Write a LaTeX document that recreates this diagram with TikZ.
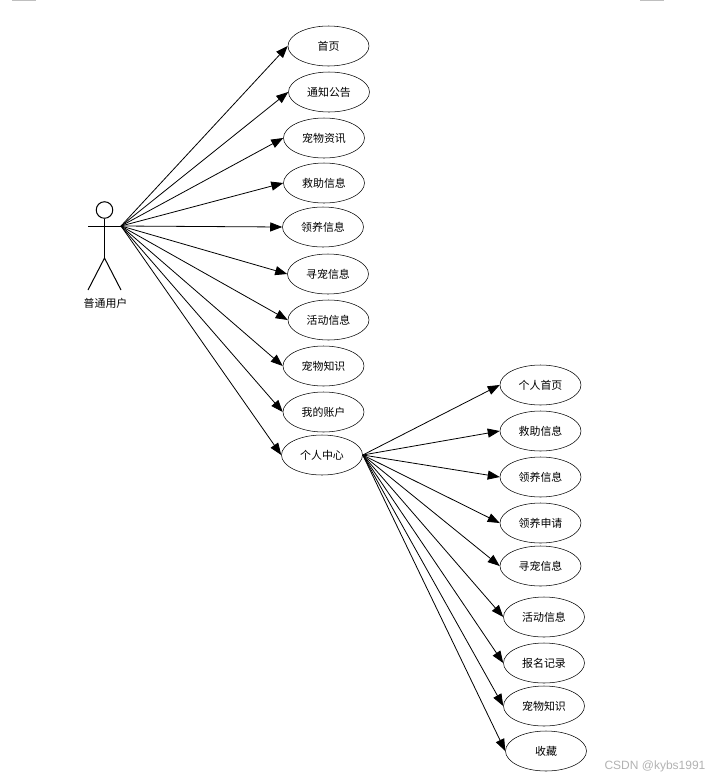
\documentclass[tikz,border=0pt]{standalone}
\usepackage{fontspec}
\setmainfont{Noto Sans CJK SC}
\newfontfamily\markfont{Liberation Sans}
\usetikzlibrary{shapes.geometric, arrows.meta}

\begin{document}
\begin{tikzpicture}[x=0.75pt, y=-0.75pt,
            usecase/.style={draw, ellipse, inner sep=0pt, minimum width=60.75pt, minimum height=30pt, text centered, font=\fontsize{8.2}{10}\selectfont},
            actorlabel/.style={font=\fontsize{8.2}{10}\selectfont},
            limb/.style={line width=0.75pt},
            arrow/.style={line width=0.6pt, -{Triangle[length=9pt, width=6.8pt]}},
            topbar/.style={draw=none, fill=black!25},
            wmark/.style={text=black!30, font=\markfont\fontsize{9}{10}\selectfont}]
            \useasboundingbox (0,0) rectangle (721,779);

            % Nodes
            \node (home) [usecase] at (328.5,46) {首页};
            \node (notice) [usecase] at (329,92) {通知公告};
            \node (news) [usecase] at (324,138) {宠物资讯};
            \node (rescue) [usecase] at (324,183) {救助信息};
            \node (adopt) [usecase] at (323,227) {领养信息};
            \node (search) [usecase] at (328,274) {寻宠信息};
            \node (event) [usecase] at (328.5,320) {活动信息};
            \node (know) [usecase] at (323.5,366) {宠物知识};
            \node (account) [usecase] at (323.5,412) {我的账户};
            \node (center) [usecase] at (322,455) {个人中心};

            \node (uhome) [usecase] at (540.5,385) {个人首页};
            \node (urescue) [usecase] at (540.5,431) {救助信息};
            \node (uadopt) [usecase] at (540.5,477) {领养信息};
            \node (uapply) [usecase] at (540.5,523) {领养申请};
            \node (usearch) [usecase] at (540.5,566) {寻宠信息};
            \node (uevent) [usecase] at (544,617) {活动信息};
            \node (urecord) [usecase] at (544,663) {报名记录};
            \node (uknow) [usecase] at (544,706) {宠物知识};
            \node (ufav) [usecase] at (546,751) {收藏};

            % Actor
            \node (head) [draw, circle, inner sep=0pt, minimum size=12.4pt, limb] at (104.5,210) {};
            \coordinate (armleft) at (88,226);
            \coordinate (hand) at (121,226);
            \coordinate (hip) at (104.5,258);
            \coordinate (footleft) at (88,290);
            \coordinate (footright) at (121,290);
            \draw [limb] (armleft) -- (hand);
            \draw [limb] (head) -- (hip);
            \draw [limb] (footleft) -- (hip) -- (footright);
            \node (user) [actorlabel] at (105.5,303) {普通用户};

            % Arrows
            \draw [arrow] (hand) -- (home.west);
            \draw [arrow] (hand) -- (notice.west);
            \draw [arrow] (hand) -- (news.west);
            \draw [arrow] (hand) -- (rescue.west);
            \draw [arrow] (hand) -- (adopt.west);
            \draw [arrow] (hand) -- (search.west);
            \draw [arrow] (hand) -- (event.west);
            \draw [arrow] (hand) -- (know.west);
            \draw [arrow] (hand) -- (account.west);
            \draw [arrow] (hand) -- (center.west);

            \draw [arrow] (center.east) -- (uhome.west);
            \draw [arrow] (center.east) -- (urescue.west);
            \draw [arrow] (center.east) -- (uadopt.west);
            \draw [arrow] (center.east) -- (uapply.west);
            \draw [arrow] (center.east) -- (usearch.west);
            \draw [arrow] (center.east) -- (uevent.west);
            \draw [arrow] (center.east) -- (urecord.west);
            \draw [arrow] (center.east) -- (uknow.west);
            \draw [arrow] (center.east) -- (ufav.west);

            % Page marks
            \fill [topbar] (12,0) rectangle (36,1);
            \fill [topbar] (640,0) rectangle (664,1);
            \node (mark) [wmark] at (655,766) {CSDN @kybs1991};
        \end{tikzpicture}
\end{document}
